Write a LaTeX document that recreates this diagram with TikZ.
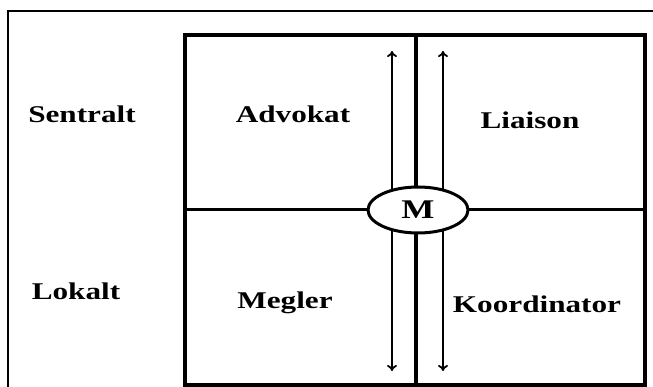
\documentclass[tikz,border=0pt]{standalone}
\usepackage{fontspec}
\setmainfont{Liberation Serif}
\usepackage{tikz}
\usetikzlibrary{positioning, arrows.meta, shapes.geometric}

\begin{document}
\begin{tikzpicture}[x=1pt, y=-1pt,
  lbl/.style={font=\fontsize{24}{24}\selectfont\bfseries, xscale=1.3, inner sep=0pt},
  frame/.style={line width=3.5pt},
  flow/.style={line width=1.8pt, {To[length=6pt,width=10pt]}-{To[length=6pt,width=10pt]}}]
\useasboundingbox (0,0) rectangle (653,387);
% thin outer frame (open to the right and bottom)
\draw[line width=1.2pt] (8,387) -- (8,11) -- (653,11);

% four quadrants
\coordinate (NW) at (185,35);
\coordinate (SE) at (645,385);
\draw[frame] (NW) rectangle (SE);
\draw[line width=3pt] (185,210) -- (645,210);
\draw[line width=4.5pt] (416,35) -- (416,385);

% flows up and down through the middle
\coordinate (l1) at (392,51);
\coordinate (l2) at (392,371);
\coordinate (r1) at (443,51);
\coordinate (r2) at (443,371);
\draw[flow] (l1) -- (l2);
\draw[flow] (r1) -- (r2);

\node[ellipse, draw, fill=white, line width=3pt, minimum width=100pt, minimum height=46pt,
      inner sep=0pt] (m) at (418,210) {};
\node[lbl, font=\fontsize{27}{27}\selectfont\bfseries] at (m) {M};

% level labels
\node[lbl] (sentralt) at (82,114) {Sentralt};
\node[lbl] (lokalt) at (76,291) {Lokalt};

% roles
\node[lbl] (advokat) at (293,114) {Advokat};
\node[lbl] (liaison) at (530,120) {Liaison};
\node[lbl] (megler) at (285,303) {Megler};
\node[lbl] (koordinator) at (537,304) {Koordinator};
\end{tikzpicture}
\end{document}
